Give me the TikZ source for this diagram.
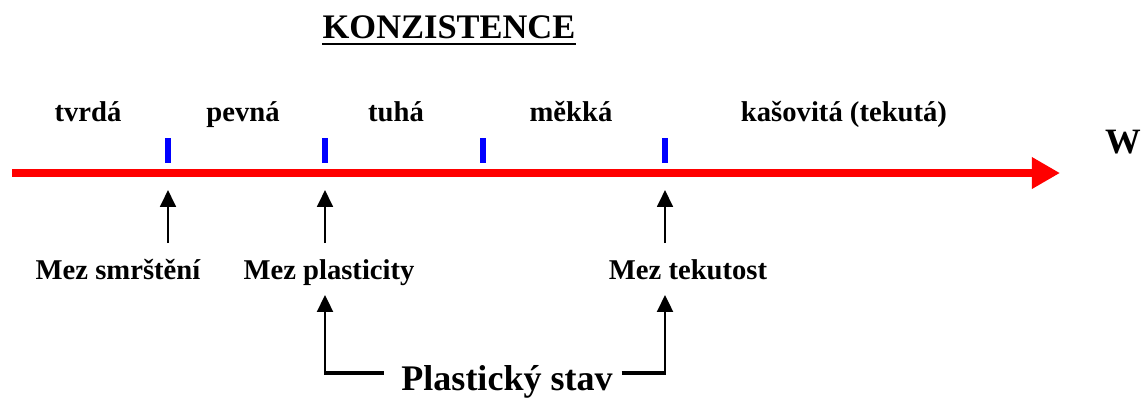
\documentclass[tikz,border=0pt]{standalone}
\usepackage{fontspec}
\setmainfont{Liberation Serif}
\usetikzlibrary{arrows.meta}

\tikzset{
  axis/.style={red, line width=4.5pt, -{Triangle[length=16pt,width=17pt]}},
  tickmark/.style={blue, line width=3.4pt},
  pointer/.style={black, line width=1.2pt, -{Triangle[length=9.6pt,width=9pt]}},
  bar/.style={black, line width=2.3pt},
  label/.style={font=\fontsize{16.3}{18}\selectfont\bfseries, inner sep=0pt, anchor=base},
}

\begin{document}
\begin{tikzpicture}[x=0.02cm, y=-0.02cm]
    \useasboundingbox (0,0) rectangle (1141,397);
    % title
    \node [label, font=\fontsize{19.6}{22}\selectfont\bfseries] (title) at (449,38) {KONZISTENCE};
    \draw [line width=1.2pt] ([yshift=-3.6pt]title.base west) -- ([yshift=-3.6pt]title.base east);

    % water content axis
    \coordinate (start) at (12,173);
    \coordinate (end) at (1060,173);
    \draw [axis] (start) -- (end);
    \node [label, font=\fontsize{20.3}{24}\selectfont\bfseries] (w) at (1123,153) {W};

    % limits on the axis
    \foreach \x/\n in {168/1, 325/2, 483/3, 665/4}
    {
        \draw [tickmark] (\x,138) -- (\x,163);
        \coordinate (a\n) at (\x,190);
        \coordinate (b\n) at (\x,243);
    }

    % states
    \node [label] (tvrda) at (88,121) {tvrdá};
    \node [label] (pevna) at (243,121) {pevná};
    \node [label] (tuha) at (396,121) {tuhá};
    \node [label] (mekka) at (571,121) {měkká};
    \node [label] (kasovita) at (844,121) {kašovitá (tekutá)};

    % limits
    \node [label] (smr) at (118,279) {Mez smrštění};
    \node [label] (plast) at (329,279) {Mez plasticity};
    \node [label] (tek) at (688,279) {Mez tekutost};
    \draw [pointer] (b1) -- (a1);
    \draw [pointer] (b2) -- (a2);
    \draw [pointer] (b4) -- (a4);

    % plastic state
    \node [label, font=\fontsize{20.5}{24}\selectfont\bfseries] (stav) at (507,390) {Plastický stav};
    \coordinate (p1) at (325,373);
    \coordinate (p2) at (665,373);
    \coordinate (q1) at (325,295);
    \coordinate (q2) at (665,295);
    \draw [bar] ([xshift=-10pt]stav.base west |- p1) -- (p1);
    \draw [bar] ([xshift=5pt]stav.base east |- p2) -- (p2);
    \draw [pointer, line width=1.5pt] ([yshift=-1pt]p1) -- (q1);
    \draw [pointer, line width=1.5pt] ([yshift=-1pt]p2) -- (q2);
\end{tikzpicture}
\end{document}
